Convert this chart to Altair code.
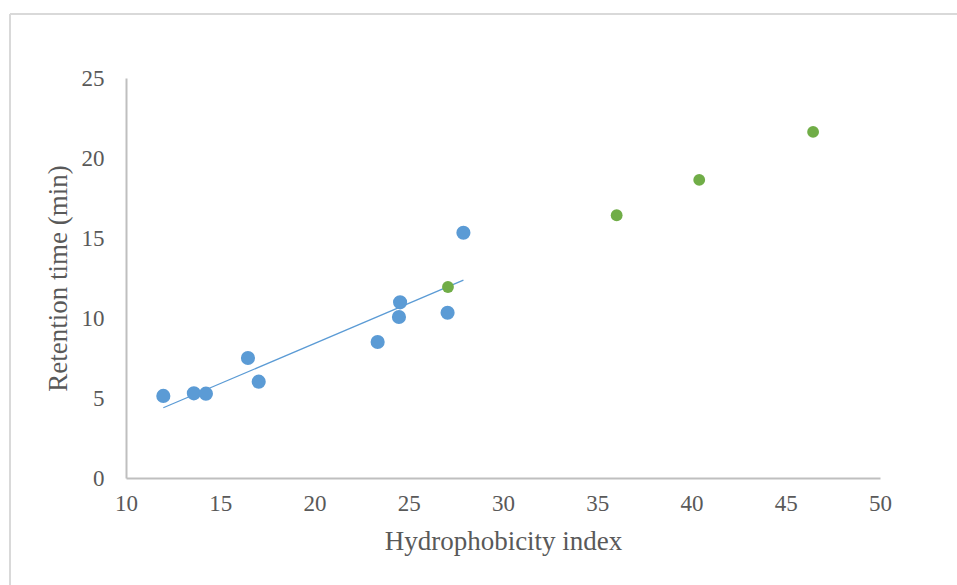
import altair as alt
import pandas as pd

blue_x = [11.98, 13.6, 14.24, 16.47, 17.04, 23.35, 24.54, 24.48, 27.06, 27.9]
blue_y = [5.13, 5.29, 5.27, 7.5, 6.02, 8.5, 10.98, 10.06, 10.33, 15.33]
green_x = [27.08, 36.03, 40.41, 46.45]
green_y = [11.94, 16.42, 18.63, 21.63]

blue = pd.DataFrame({"x": blue_x, "y": blue_y})
green = pd.DataFrame({"x": green_x, "y": green_y})

FONT = "Liberation Serif"
xs = alt.Scale(domain=[10, 50], nice=False, zero=False)
ys = alt.Scale(domain=[0, 25], nice=False)

xax = alt.Axis(values=list(range(10, 51, 5)), title="Hydrophobicity index", grid=False, ticks=False,
               domainColor="#BFBFBF", domainWidth=2, labelFont=FONT, labelFontSize=23,
               labelColor="#595959", labelPadding=14, labelFlush=False, titleFont=FONT, titleFontSize=27,
               titleColor="#595959", titleFontWeight="normal", titlePadding=13)
yax = alt.Axis(values=list(range(0, 26, 5)), title="Retention time (min)", grid=False, ticks=False,
               domainColor="#BFBFBF", domainWidth=2, labelFont=FONT, labelFontSize=23,
               labelColor="#595959", labelPadding=22, titleFont=FONT, titleFontSize=27,
               titleColor="#595959", titleFontWeight="normal", titlePadding=9)

pts_blue = alt.Chart(blue).mark_circle(size=200, opacity=1, color="#5B9BD5").encode(
    x=alt.X("x:Q", scale=xs, axis=xax), y=alt.Y("y:Q", scale=ys, axis=yax))
trend = alt.Chart(blue).transform_regression("x", "y").mark_line(color="#5B9BD5", strokeWidth=1.3).encode(
    x=alt.X("x:Q", scale=xs), y=alt.Y("y:Q", scale=ys))
pts_green = alt.Chart(green).mark_circle(size=140, opacity=1, color="#70AD47").encode(
    x=alt.X("x:Q", scale=xs), y=alt.Y("y:Q", scale=ys))

border_left = alt.Chart(blue).mark_rule(color="#D9D9D9", strokeWidth=1.5).encode(
    x=alt.value(-116), y=alt.value(-64), y2=alt.value(520))
border_top = alt.Chart(blue).mark_rule(color="#D9D9D9", strokeWidth=1.5).encode(
    x=alt.value(-116), x2=alt.value(840), y=alt.value(-64))

chart = alt.layer(border_left, border_top, trend, pts_blue, pts_green).properties(
    width=754, height=400,
    autosize=alt.AutoSizeParams(type="none"),
    padding={"left": 126, "top": 78, "right": 77, "bottom": 107},
).configure_view(stroke=None)

chart.save("out.html", embed_options={"renderer": "svg", "actions": False})
